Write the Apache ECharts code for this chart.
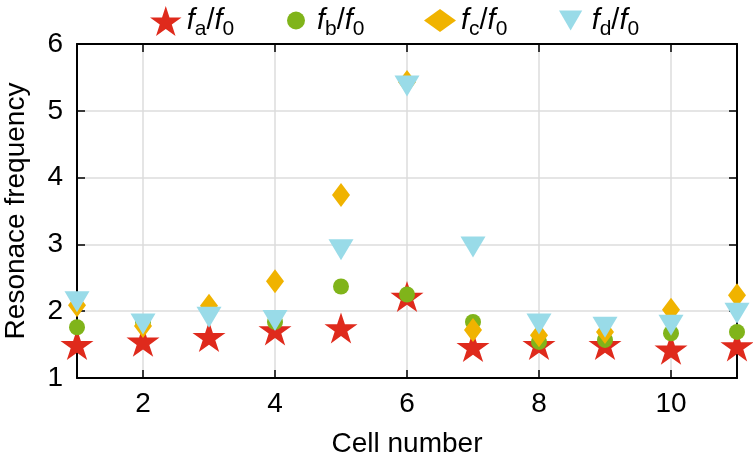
<!DOCTYPE html>
<html><head><meta charset="utf-8">
<script src="https://cdn.jsdelivr.net/npm/echarts@6/dist/echarts.min.js"></script>
<style>html,body{margin:0;padding:0;background:#fff}#c{width:753px;height:459px}</style>
</head><body><div id="c"></div>
<script>
var cells = [1,2,3,4,5,6,7,8,9,10,11];
var xTicks = [2,4,6,8,10];
var fa = [1.50,1.55,1.62,1.72,1.75,2.22,1.47,1.50,1.50,1.43,1.48];
var fb = [1.76,1.84,2.02,1.84,2.37,2.25,1.84,1.54,1.57,1.67,1.69];
var fc = [2.09,1.78,2.08,2.45,3.74,5.43,1.72,1.64,1.69,2.02,2.24];
var fd = [2.14,1.81,1.91,1.86,2.92,5.37,2.96,1.81,1.76,1.79,1.97];
var names = ['a','b','c','d'];

function pairs(v){ return cells.map(function(c,i){return [c,v[i]];}); }
var star = 'path://M50,0 L61.8,36.3 L100,36.3 L69.1,58.8 L80.9,95.1 L50,72.6 L19.1,95.1 L30.9,58.8 L0,36.3 L38.2,36.3 Z';
var tri = 'path://M0,0 L100,0 L50,86 Z';
var FONT = 'Liberation Sans';
var chart = echarts.init(document.getElementById('c'));
var rich = {
  f:{fontFamily:FONT,fontStyle:'italic',fontSize:29,color:'#000',lineHeight:34,verticalAlign:'middle'},
  s:{fontFamily:FONT,fontSize:21,color:'#000',lineHeight:34,verticalAlign:'bottom',padding:[0,0,-2,0]},
  n:{fontFamily:FONT,fontSize:29,color:'#000',lineHeight:34,verticalAlign:'middle'}
};
function leg(name, left, w, h, icon){
  var o = {top:1, left:left, itemWidth:w, itemHeight:h, data:[name],
    formatter:function(n){ return '{f|f}{s|'+n+'}{n|/}{f|f}{s|0}'; },
    textStyle:{rich:rich}};
  if(icon) o.icon = icon;
  return o;
}
chart.setOption({
  animation:false,
  textStyle:{fontFamily:FONT},
  legend:[
    leg(names[0],145,32,30),
    leg(names[1],282,32,18),
    leg(names[2],419,32,23),
    leg(names[3],554,32,20,tri)
  ],
  grid:{left:77,right:16,top:44,bottom:81,containLabel:false,outerBoundsMode:'none'},
  xAxis:[{
    type:'value', min:1, max:11,
    name:'Cell number', nameLocation:'middle', nameGap:52,
    nameTextStyle:{fontSize:28,color:'#000',fontFamily:FONT},
    axisLine:{show:true,lineStyle:{color:'#000',width:2}},
    axisTick:{show:true,inside:true,length:8,customValues:xTicks,lineStyle:{color:'#000',width:1.5}},
    axisLabel:{customValues:xTicks,fontSize:28,color:'#000',margin:12,fontFamily:FONT},
    splitLine:{show:true,lineStyle:{color:'#dcdcdc',width:1.5}}
  },{
    type:'value', min:1, max:11, position:'top',
    axisLine:{show:true,lineStyle:{color:'#000',width:2}},
    axisTick:{show:true,inside:true,length:8,customValues:xTicks,lineStyle:{color:'#000',width:1.5}},
    axisLabel:{show:false}, splitLine:{show:false}
  }],
  yAxis:[{
    type:'value', min:1, max:6, interval:1,
    name:'Resonace frequency', nameLocation:'middle', nameGap:47,
    nameTextStyle:{fontSize:28,color:'#000',fontFamily:FONT},
    axisLine:{show:true,lineStyle:{color:'#000',width:2}},
    axisTick:{show:true,inside:true,length:8,lineStyle:{color:'#000',width:1.5}},
    axisLabel:{fontSize:28,color:'#000',margin:14,fontFamily:FONT},
    splitLine:{show:true,lineStyle:{color:'#dcdcdc',width:1.5}}
  },{
    type:'value', min:1, max:6, interval:1, position:'right',
    axisLine:{show:true,lineStyle:{color:'#000',width:2}},
    axisTick:{show:true,inside:true,length:8,lineStyle:{color:'#000',width:1.5}},
    axisLabel:{show:false}, splitLine:{show:false}
  }],
  series:[
    {name:'a',type:'scatter',data:pairs(fa),symbol:star,symbolSize:[33,31],itemStyle:{color:'#df2a1c',opacity:1}},
    {name:'b',type:'scatter',data:pairs(fb),symbol:'circle',symbolSize:16,itemStyle:{color:'#80b41a',opacity:1}},
    {name:'c',type:'scatter',data:pairs(fc),symbol:'diamond',symbolSize:[18,24],itemStyle:{color:'#f0b300',opacity:1}},
    {name:'d',type:'scatter',data:pairs(fd),symbol:'triangle',symbolRotate:180,symbolSize:[25,21],itemStyle:{color:'#99dbe8',opacity:1}}
  ]
});
</script></body></html>
